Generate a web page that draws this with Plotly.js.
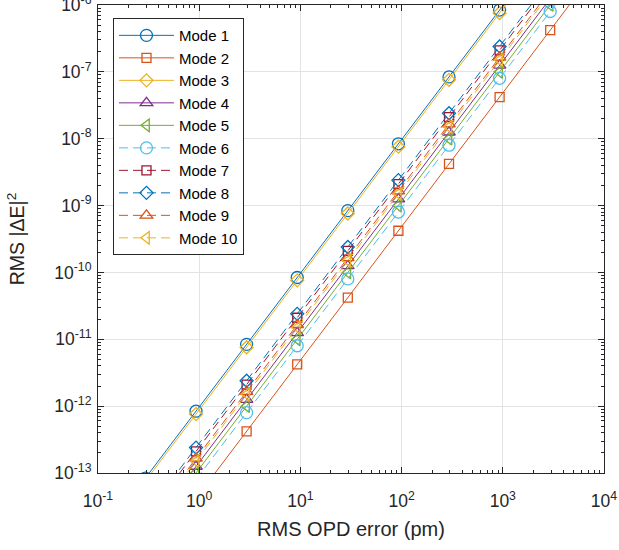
<!DOCTYPE html>
<html>
<head>
<meta charset="utf-8">
<script src="https://cdn.plot.ly/plotly-3.0.1.min.js"></script>
<style>html,body{margin:0;padding:0;background:#fff;}#chart{width:619px;height:550px;}</style>
</head>
<body>
<div id="chart"></div>
<script>
// RMS OPD error (pm)
const opd = [0.294, 0.93, 2.94, 9.3, 29.4, 93, 294, 930, 2940, 9300];

const mode1  = [8.4e-14, 8.4e-13, 8.4e-12, 8.4e-11, 8.4e-10, 8.4e-9, 8.4e-8, 8.4e-7, 8.4e-6, 8.4e-5];
const mode2  = [4.2e-15, 4.2e-14, 4.2e-13, 4.2e-12, 4.2e-11, 4.2e-10, 4.2e-9, 4.2e-8, 4.2e-7, 4.2e-6];
const mode3  = [7.6e-14, 7.6e-13, 7.6e-12, 7.6e-11, 7.6e-10, 7.6e-9, 7.6e-8, 7.6e-7, 7.6e-6, 7.6e-5];
const mode4  = [1.25e-14, 1.25e-13, 1.25e-12, 1.25e-11, 1.25e-10, 1.25e-9, 1.25e-8, 1.25e-7, 1.25e-6, 1.25e-5];
const mode5  = [1.0e-14, 1.0e-13, 1.0e-12, 1.0e-11, 1.0e-10, 1.0e-9, 1.0e-8, 1.0e-7, 1.0e-6, 1.0e-5];
const mode6  = [8.0e-15, 8.0e-14, 8.0e-13, 8.0e-12, 8.0e-11, 8.0e-10, 8.0e-9, 8.0e-8, 8.0e-7, 8.0e-6];
const mode7  = [2.1e-14, 2.1e-13, 2.1e-12, 2.1e-11, 2.1e-10, 2.1e-9, 2.1e-8, 2.1e-7, 2.1e-6, 2.1e-5];
const mode8  = [2.4e-14, 2.4e-13, 2.4e-12, 2.4e-11, 2.4e-10, 2.4e-9, 2.4e-8, 2.4e-7, 2.4e-6, 2.4e-5];
const mode9  = [1.65e-14, 1.65e-13, 1.65e-12, 1.65e-11, 1.65e-10, 1.65e-9, 1.65e-8, 1.65e-7, 1.65e-6, 1.65e-5];
const mode10 = [1.5e-14, 1.5e-13, 1.5e-12, 1.5e-11, 1.5e-10, 1.5e-9, 1.5e-8, 1.5e-7, 1.5e-6, 1.5e-5];

const seriesNames = ['Mode 1','Mode 2','Mode 3','Mode 4','Mode 5','Mode 6','Mode 7','Mode 8','Mode 9','Mode 10'];
const seriesData = [mode1, mode2, mode3, mode4, mode5, mode6, mode7, mode8, mode9, mode10];

const xTickVals = [0.1, 1, 10, 100, 1000, 10000];
const xTickText = ['10<sup>-1</sup>','10<sup>0</sup>','10<sup>1</sup>','10<sup>2</sup>','10<sup>3</sup>','10<sup>4</sup>'];
const yTickVals = [1e-13, 1e-12, 1e-11, 1e-10, 1e-9, 1e-8, 1e-7, 1e-6];
const yTickText = ['10<sup>-13</sup>','10<sup>-12</sup>','10<sup>-11</sup>','10<sup>-10</sup>','10<sup>-9</sup>','10<sup>-8</sup>','10<sup>-7</sup>','10<sup>-6</sup>'];

const colors = ['#0072BD','#D95319','#EDB120','#7E2F8E','#77AC30','#4DBEEE','#A2142F','#0072BD','#D95319','#EDB120'];
const symbols = ['circle-open','square-open','diamond-open','triangle-up-open','triangle-left-open',
                 'circle-open','square-open','diamond-open','triangle-up-open','triangle-left-open'];
const sizes = [12, 9, 10, 11, 11, 12, 9, 10, 11, 11];
const dashes = ['solid','solid','solid','solid','solid','9px,5px','9px,5px','9px,5px','9px,5px','9px,5px'];

const traces = seriesData.map((ys, i) => ({
  x: opd, y: ys, name: seriesNames[i], type: 'scatter', mode: 'lines+markers',
  line: {color: colors[i], width: 1, dash: dashes[i]},
  marker: {symbol: symbols[i], size: sizes[i], color: colors[i], line: {color: colors[i], width: 1.3}},
  cliponaxis: true
}));

const axisCommon = {
  type: 'log', showline: true, linecolor: '#262626', linewidth: 1, mirror: 'allticks',
  ticks: 'inside', ticklen: 6, tickcolor: '#262626', tickwidth: 1,
  showgrid: true, gridcolor: '#e3e3e3', gridwidth: 1, zeroline: false,
  tickmode: 'array', ticklabeloverflow: 'allow',
  minor: {ticks: 'inside', ticklen: 3, tickcolor: '#262626', dtick: 'D1', showgrid: false},
  tickfont: {family: 'Liberation Sans, Arial, sans-serif', size: 17.5, color: '#262626'}
};

const layout = {
  width: 619, height: 550,
  margin: {l: 98, r: 15, t: 5, b: 77},
  paper_bgcolor: '#fff', plot_bgcolor: '#fff',
  font: {family: 'Liberation Sans, Arial, sans-serif', color: '#262626'},
  showlegend: true,
  xaxis: Object.assign({}, axisCommon, {
    range: [-1, 4], tickvals: xTickVals, ticktext: xTickText, ticklabelstandoff: 12,
    title: {text: 'RMS OPD error (pm)', font: {size: 20, color: '#262626'}, standoff: 11}
  }),
  yaxis: Object.assign({}, axisCommon, {
    range: [-13, -6], tickvals: yTickVals, ticktext: yTickText, ticklabelstandoff: 2,
    title: {text: 'RMS |ΔE|<sup>2</sup>', font: {size: 19.5, color: '#262626'}, standoff: 24}
  }),
  legend: {
    x: 0.0296, y: 0.972, xanchor: 'left', yanchor: 'top',
    bgcolor: '#ffffff', bordercolor: '#262626', borderwidth: 1,
    font: {size: 15, color: '#000'}, itemwidth: 55, traceorder: 'normal'
  }
};

Plotly.newPlot('chart', traces, layout, {staticPlot: true, displayModeBar: false});
</script>
</body>
</html>
